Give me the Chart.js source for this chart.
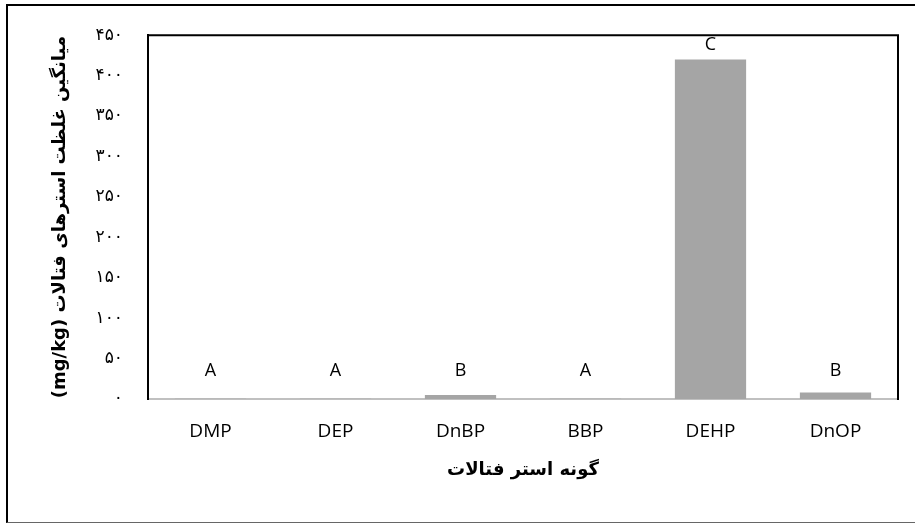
<!DOCTYPE html>
<html>
<head>
<meta charset="utf-8">
<script src="https://cdn.jsdelivr.net/npm/chart.js@4/dist/chart.umd.min.js"></script>
<style>
  html, body { margin: 0; padding: 0; background: #fff; }
  #wrap { position: relative; width: 915px; height: 523px; overflow: hidden; }
  #frame { position: absolute; left: 6px; top: 4px; width: 920px; height: 516px;
           border-left: 2px solid #000; border-top: 2px solid #000; border-bottom: 1px solid #666; box-sizing: content-box; pointer-events: none; }
  canvas { position: absolute; left: 0; top: 0; }
</style>
</head>
<body>
<div id="wrap">
  <canvas id="c" width="915" height="523" dir="rtl"></canvas>
  <div id="frame"></div>
</div>
<script>
const categories = ['DMP', 'DEP', 'DnBP', 'BBP', 'DEHP', 'DnOP'];
const meanConcentration = [0.3, 0.3, 5, 0.3, 420, 8];
const groupLetters = ['A', 'A', 'B', 'A', 'C', 'B'];
const yTicks = [0, 50, 100, 150, 200, 250, 300, 350, 400, 450];
const yTitle = 'میانگین غلظت استرهای فتالات (mg/kg)';
const xTitle = 'گونه استر فتالات';

const persianDigits = ['۰','۱','۲','۳','۴','۵','۶','۷','۸','۹'];
const toPersian = v => String(v).replace(/[0-9]/g, d => persianDigits[+d]);

const frameBorder = {
  id: 'frameBorder',
  afterDraw(chart) {
    const {ctx, chartArea: a} = chart;
    ctx.save();
    ctx.strokeStyle = '#000';
    ctx.lineWidth = 2;
    ctx.beginPath();
    ctx.moveTo(a.left, a.top);
    ctx.lineTo(a.right, a.top);
    ctx.lineTo(a.right, a.bottom + 1);
    ctx.stroke();
    ctx.restore();
  }
};

const letterLabels = {
  id: 'letterLabels',
  afterDatasetsDraw(chart) {
    const {ctx} = chart;
    const meta = chart.getDatasetMeta(0);
    const base = chart.scales.y.getPixelForValue(0);
    ctx.save();
    ctx.font = '18px "Open Sans"';
    ctx.fillStyle = '#000';
    ctx.textAlign = 'center';
    ctx.textBaseline = 'middle';
    meta.data.forEach((bar, i) => {
      const y = Math.min(bar.y - 15, base - 28);
      ctx.fillText(groupLetters[i], bar.x, y);
    });
    ctx.restore();
  }
};

new Chart(document.getElementById('c'), {
  type: 'bar',
  data: {
    labels: categories,
    datasets: [{
      data: meanConcentration,
      backgroundColor: '#a5a5a5',
      borderWidth: 0,
      barPercentage: 0.57,
      categoryPercentage: 1
    }]
  },
  options: {
    responsive: false,
    animation: false,
    events: [],
    layout: { padding: { left: 0, right: 17, top: 35, bottom: 0 } },
    plugins: { legend: { display: false }, tooltip: { enabled: false } },
    scales: {
      x: {
        grid: { display: false, drawTicks: false },
        border: { display: true, color: '#c0c0c0', width: 2 },
        ticks: { color: '#000', padding: 21, font: { family: 'Open Sans', size: 19 } },
        title: { display: true, text: xTitle, color: '#000',
                 font: { family: 'DejaVu Sans', size: 18, weight: 'bold' },
                 padding: { top: 0, bottom: 42 } },
        afterFit: s => { s.height = 124; }
      },
      y: {
        min: 0, max: 450,
        afterBuildTicks: s => { s.ticks = yTicks.map(v => ({ value: v })); },
        grid: { display: false, drawTicks: false },
        border: { display: true, color: '#000', width: 2 },
        ticks: { color: '#000', padding: 25, font: { family: 'DejaVu Sans', size: 17 },
                 callback: v => toPersian(v) },
        title: { display: true, text: yTitle, color: '#000',
                 font: { family: 'DejaVu Sans', size: 18, weight: 'bold' },
                 padding: { top: 50, bottom: 0 } },
        afterFit: s => { s.width = 148; }
      }
    }
  },
  plugins: [frameBorder, letterLabels]
});
</script>
</body>
</html>
